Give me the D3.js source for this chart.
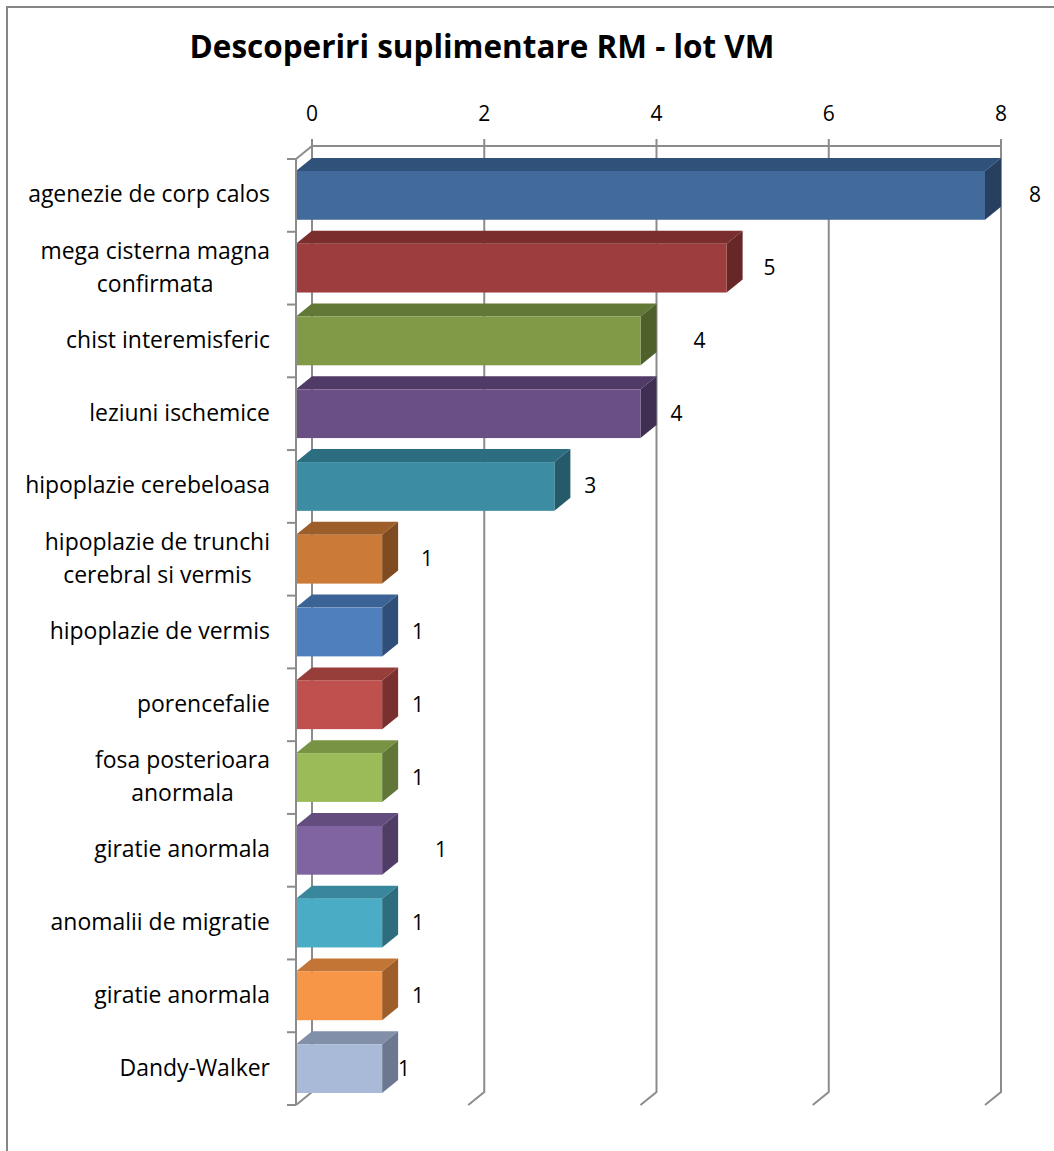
<!DOCTYPE html>
<html>
<head>
<meta charset="utf-8">
<script src="https://cdn.jsdelivr.net/npm/d3@7"></script>
<style>
  body { margin: 0; background: #fff; }
  svg text { font-family: "Open Sans", "Noto Sans", sans-serif; fill: #000; }
</style>
</head>
<body>
<div id="app"></div>
<script>
// data
const categories = [
  "agenezie de corp calos",
  "mega cisterna magna\nconfirmata",
  "chist interemisferic",
  "leziuni ischemice",
  "hipoplazie cerebeloasa",
  "hipoplazie de trunchi\ncerebral si vermis",
  "hipoplazie de vermis",
  "porencefalie",
  "fosa posterioara\nanormala",
  "giratie anormala",
  "anomalii de migratie",
  "giratie anormala ",
  "Dandy-Walker"
];
const values = [8, 5, 4, 4, 3, 1, 1, 1, 1, 1, 1, 1, 1];
const xTicks = [0, 2, 4, 6, 8];
const chartTitle = "Descoperiri suplimentare RM - lot VM";

// bar colours (front, top, side)
const frontColors = ["#426a9b", "#9e3d3d", "#809a47", "#6a4f85", "#3c8ca3", "#cc7a37",
                     "#4f80bd", "#c0504d", "#9bbb59", "#8064a2", "#4bacc6", "#f79646", "#a9b9d8"];
const topColors   = ["#30517a", "#7b2e2e", "#617836", "#503b68", "#2c6d80", "#9e5e29",
                     "#3b6396", "#973d3a", "#789344", "#634d7f", "#38879c", "#c37535", "#8190a8"];
const sideColors  = ["#28405f", "#672727", "#4e602b", "#3f2f52", "#245a6a", "#7f4b20",
                     "#2f4f79", "#7a302e", "#617637", "#4f3d66", "#2d6d7e", "#9d5e2a", "#6c7890"];
// Excel's uneven label placement, pixels past bar end
const labelNudge = [34, 27, 43, 20, 20, 29, 20, 20, 20, 43, 20, 20, 6];

const width = 1054, height = 1151;
const dx = 16, dy = 13;
const gridColor = "#8c8c8c";

const svg = d3.select("#app").append("svg")
    .attr("width", width)
    .attr("height", height);

// outer chart border (only top/left visible)
svg.append("rect")
    .attr("x", 7).attr("y", 7)
    .attr("width", 1100).attr("height", 1200)
    .attr("fill", "none")
    .attr("stroke", "#868686")
    .attr("stroke-width", 2);

const x = d3.scaleLinear().domain([0, 8]).range([296, 985]);
const y = d3.scaleBand().domain(d3.range(categories.length)).range([159, 1105]);
const inset = y.bandwidth() * 0.165;

// title
const title = svg.append("text")
    .attr("x", 482).attr("y", 58)
    .attr("text-anchor", "middle")
    .style("font-weight", "bold")
    .style("font-size", "30px")
    .text(chartTitle);
// squeeze to roughly Calibri width
let tw = title.node().getComputedTextLength();
title.style("font-size", (30 * 585 / tw) + "px");

// back wall gridlines + floor diagonals
const grid = svg.append("g").attr("stroke", gridColor).attr("stroke-width", 2).attr("fill", "none");
xTicks.forEach(t => {
    let bx = x(t) + dx;
    grid.append("path")
        .attr("d", `M${bx},${y.range()[0] - dy - 7}L${bx},${y.range()[1] - dy}L${x(t)},${y.range()[1]}`);
});
grid.append("line")
    .attr("x1", x(0) + dx).attr("x2", x(8) + dx)
    .attr("y1", y.range()[0] - dy).attr("y2", y.range()[0] - dy);
grid.append("line")
    .attr("x1", x(0)).attr("x2", x(0) + dx)
    .attr("y1", y.range()[0]).attr("y2", y.range()[0] - dy);

const numSize = 21;

// top tick labels
svg.append("g").selectAll("text")
    .data(xTicks)
    .enter().append("text")
        .attr("x", d => x(d) + dx)
        .attr("y", 121)
        .attr("text-anchor", "middle")
        .style("font-size", numSize + "px")
        .text(d => d);

// bars
const bars = svg.append("g").selectAll("g")
    .data(values)
    .enter().append("g");

bars.append("path")
    .attr("fill", (d, i) => topColors[i])
    .attr("d", (d, i) => {
        let yt = y(i) + inset, x0 = x(0), x1 = x(d);
        return `M${x0},${yt}L${x1},${yt}L${x1 + dx},${yt - dy}L${x0 + dx},${yt - dy}Z`;
    });
bars.append("path")
    .attr("fill", (d, i) => sideColors[i])
    .attr("d", (d, i) => {
        let yt = y(i) + inset, yb = y(i) + y.bandwidth() - inset, x1 = x(d);
        return `M${x1},${yt}L${x1 + dx},${yt - dy}L${x1 + dx},${yb - dy}L${x1},${yb}Z`;
    });
bars.append("rect")
    .attr("fill", (d, i) => frontColors[i])
    .attr("x", x(0))
    .attr("y", (d, i) => y(i) + inset)
    .attr("width", d => x(d) - x(0))
    .attr("height", y.bandwidth() - 2 * inset);

// value labels
bars.append("text")
    .attr("x", (d, i) => x(d) + dx + labelNudge[i])
    .attr("y", (d, i) => y(i) + y.bandwidth() / 2 + 7)
    .attr("text-anchor", "middle")
    .style("font-size", numSize + "px")
    .text(d => d);

// front category axis
const axis = svg.append("g").attr("stroke", gridColor).attr("stroke-width", 2);
axis.append("line")
    .attr("x1", x(0)).attr("x2", x(0))
    .attr("y1", y.range()[0]).attr("y2", y.range()[1]);
axis.selectAll(".tick")
    .data(d3.range(categories.length + 1))
    .enter().append("line")
        .attr("x1", x(0) - 9).attr("x2", x(0))
        .attr("y1", i => y.range()[0] + i * y.step())
        .attr("y2", i => y.range()[0] + i * y.step());

// category labels, multi-line ones centred in a right-aligned block
const labelG = svg.append("g");
// size so the first label spans like the original (~242px)
const probe = labelG.append("text").style("font-size", "20px").text(categories[0]);
const catSize = 20 * 242 / probe.node().getComputedTextLength();
probe.remove();

categories.forEach((c, i) => {
    let lines = c.trim().split("\n");
    let t = labelG.append("text")
        .attr("text-anchor", "middle")
        .style("font-size", catSize + "px");
    let cy = y(i) + y.bandwidth() / 2;
    let lh = 33;
    lines.forEach((ln, k) => {
        t.append("tspan")
            .attr("x", 0)
            .attr("y", cy + 7 + (k - (lines.length - 1) / 2) * lh)
            .text(ln);
    });
    let w = d3.max(t.selectAll("tspan").nodes(), n => n.getComputedTextLength());
    t.selectAll("tspan").attr("x", 270 - w / 2);
});
</script>
</body>
</html>
